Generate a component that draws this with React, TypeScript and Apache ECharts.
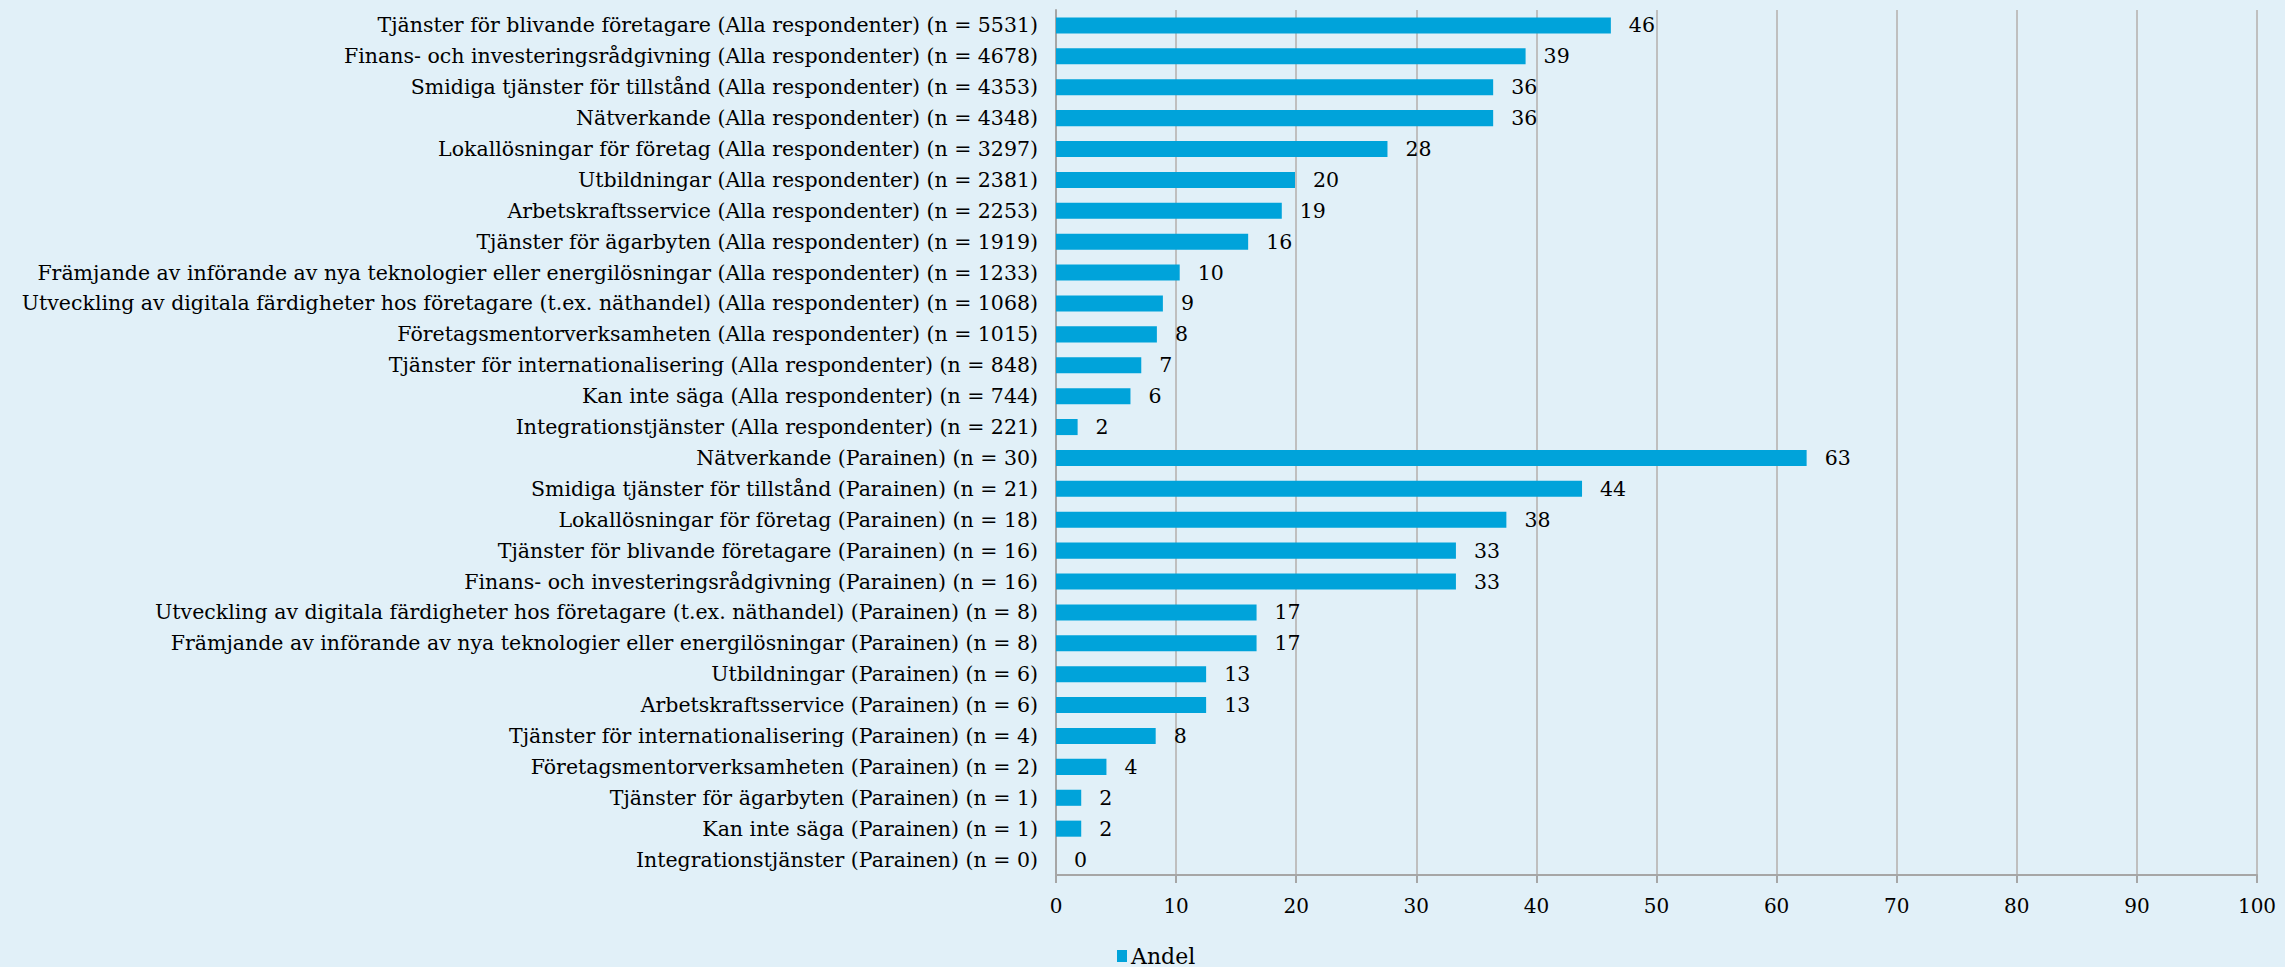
import React, { useEffect, useRef } from "react";
import * as echarts from "echarts";

const categories: string[] = [
  "Tjänster för blivande företagare (Alla respondenter) (n = 5531)",
  "Finans- och investeringsrådgivning (Alla respondenter) (n = 4678)",
  "Smidiga tjänster för tillstånd (Alla respondenter) (n = 4353)",
  "Nätverkande (Alla respondenter) (n = 4348)",
  "Lokallösningar för företag (Alla respondenter) (n = 3297)",
  "Utbildningar (Alla respondenter) (n = 2381)",
  "Arbetskraftsservice (Alla respondenter) (n = 2253)",
  "Tjänster för ägarbyten (Alla respondenter) (n = 1919)",
  "Främjande av införande av nya teknologier eller energilösningar (Alla respondenter) (n = 1233)",
  "Utveckling av digitala färdigheter hos företagare (t.ex. näthandel) (Alla respondenter) (n = 1068)",
  "Företagsmentorverksamheten (Alla respondenter) (n = 1015)",
  "Tjänster för internationalisering (Alla respondenter) (n = 848)",
  "Kan inte säga (Alla respondenter) (n = 744)",
  "Integrationstjänster (Alla respondenter) (n = 221)",
  "Nätverkande (Parainen) (n = 30)",
  "Smidiga tjänster för tillstånd (Parainen) (n = 21)",
  "Lokallösningar för företag (Parainen) (n = 18)",
  "Tjänster för blivande företagare (Parainen) (n = 16)",
  "Finans- och investeringsrådgivning (Parainen) (n = 16)",
  "Utveckling av digitala färdigheter hos företagare (t.ex. näthandel) (Parainen) (n = 8)",
  "Främjande av införande av nya teknologier eller energilösningar (Parainen) (n = 8)",
  "Utbildningar (Parainen) (n = 6)",
  "Arbetskraftsservice (Parainen) (n = 6)",
  "Tjänster för internationalisering (Parainen) (n = 4)",
  "Företagsmentorverksamheten (Parainen) (n = 2)",
  "Tjänster för ägarbyten (Parainen) (n = 1)",
  "Kan inte säga (Parainen) (n = 1)",
  "Integrationstjänster (Parainen) (n = 0)",
];

const andel: number[] = [
  46.2, 39.1, 36.4, 36.4, 27.6, 19.9, 18.8, 16.0, 10.3, 8.9, 8.4, 7.1, 6.2, 1.8,
  62.5, 43.8, 37.5, 33.3, 33.3, 16.7, 16.7, 12.5, 12.5, 8.3, 4.2, 2.1, 2.1, 0,
];

const seriesName = "Andel";
const xTicks = { min: 0, max: 100, interval: 10 };

const FONT = "'DejaVu Serif', 'Liberation Serif', serif";

export default function App() {
  const ref = useRef<HTMLDivElement>(null);
  useEffect(() => {
    if (!ref.current) return;
    const chart = echarts.init(ref.current, null, { renderer: "svg" });
    chart.setOption({
      animation: false,
      backgroundColor: "#E1F0F8",
      textStyle: { fontFamily: FONT },
      grid: { left: 1056, right: 28, top: 10, bottom: 92, containLabel: false },
      legend: {
        data: [seriesName],
        left: 1117,
        top: 945,
        icon: "rect",
        itemWidth: 10,
        itemHeight: 12,
        itemGap: 4,
        textStyle: { fontFamily: FONT, fontSize: 22, color: "#000", padding: [0, 0, 0, -1] },
        padding: 0,
      },
      xAxis: {
        type: "value",
        min: xTicks.min,
        max: xTicks.max,
        interval: xTicks.interval,
        axisLine: { show: true, lineStyle: { color: "#A6A6A6", width: 2 } },
        axisTick: { show: true, length: 8, lineStyle: { color: "#A6A6A6", width: 2 } },
        axisLabel: { fontFamily: FONT, fontSize: 20, color: "#000", margin: 21 },
        splitLine: { show: true, lineStyle: { color: "#BFBFBF", width: 2 } },
      },
      yAxis: {
        type: "category",
        inverse: true,
        data: categories,
        axisLine: { show: true, lineStyle: { color: "#A6A6A6", width: 2 } },
        axisTick: { show: false },
        axisLabel: { fontFamily: FONT, fontSize: 20.5, color: "#000", margin: 18, interval: 0 },
        splitLine: { show: false },
      },
      series: [
        {
          name: seriesName,
          type: "bar",
          data: andel,
          barCategoryGap: "48%",
          itemStyle: { color: "#00A3DA" },
          label: {
            show: true,
            position: "right",
            distance: 18,
            fontFamily: FONT,
            fontSize: 20.5,
            color: "#000",
            formatter: (p: any) => String(Math.round(p.value)),
          },
        },
      ],
    });
    return () => chart.dispose();
  }, []);
  return <div ref={ref} style={{ width: 2285, height: 967, position: "absolute", left: 0, top: 0 }} />;
}
